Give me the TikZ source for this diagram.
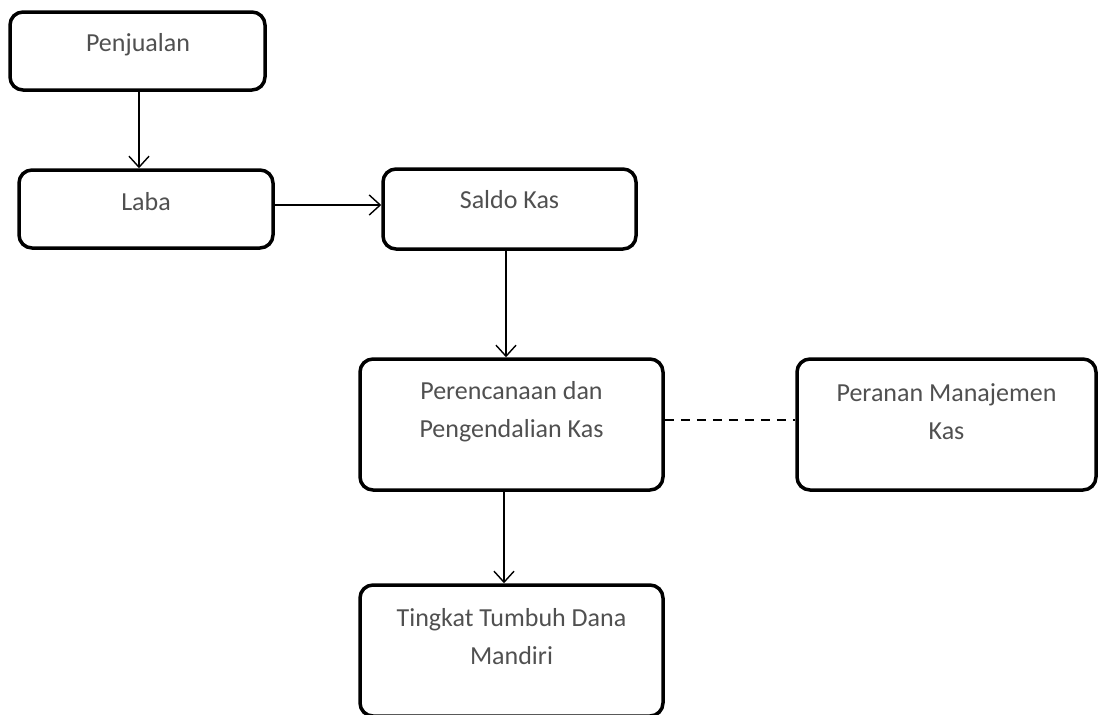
\documentclass[tikz,border=0pt]{standalone}
\usepackage{fontspec}
\setmainfont{Carlito}
\usetikzlibrary{arrows.meta}
\definecolor{txtgray}{RGB}{80,80,80}
\begin{document}
\begin{tikzpicture}[x=1pt,y=-1pt,
  box/.style={draw=black, line width=3.5pt, rounded corners=13pt, inner sep=0pt, minimum width=#1},
  lbl/.style={text=txtgray, font=\fontsize{26}{38}\selectfont, align=center, inner sep=0pt},
  arr/.style={line width=1.4pt, -{Straight Barb[length=11pt,width=20pt,line width=1.4pt]}},
  dashline/.style={line width=1.6pt, dash pattern=on 9pt off 7pt}
]
\useasboundingbox (0,0) rectangle (1101,715);
\node[box=255pt, minimum height=78pt] (pj) at (137.5,51) {};
\node[lbl] (pjt) at (138,45) {Penjualan};
\node[box=254pt, minimum height=78pt] (lb) at (146,209) {};
\node[lbl] (lbt) at (146,202) {Laba};
\node[box=253pt, minimum height=80pt] (sk) at (509.5,209) {};
\node[lbl] (skt) at (509.5,200) {Saldo Kas};
\node[box=303pt, minimum height=131pt] (pp) at (511.5,424.5) {};
\node[lbl] (ppt) at (511.5,412) {Perencanaan dan\\Pengendalian Kas};
\node[box=299pt, minimum height=131pt] (pr) at (946.5,424.5) {};
\node[lbl] (prt) at (946.5,412) {Peranan Manajemen\\Kas};
\node[box=303pt, minimum height=131pt] (tt) at (511.5,650.5) {};
\node[lbl] (ttt) at (511.5,637) {Tingkat Tumbuh Dana\\Mandiri};
\draw[arr] ([xshift=1.5pt]pj.south) -- ([xshift=1.5pt]pj.south |- lb.north);
\draw[arr] ([yshift=4pt]lb.east) -- ([yshift=4pt]lb.east -| sk.west);
\draw[arr] ([xshift=-3.5pt]sk.south) -- ([xshift=-3.5pt]sk.south |- pp.north);
\draw[arr] ([xshift=-7.5pt]pp.south) -- ([xshift=-7.5pt]pp.south |- tt.north);
\draw[dashline] ([yshift=4.5pt]pp.east) -- ([yshift=4.5pt]pr.west);
\end{tikzpicture}
\end{document}
